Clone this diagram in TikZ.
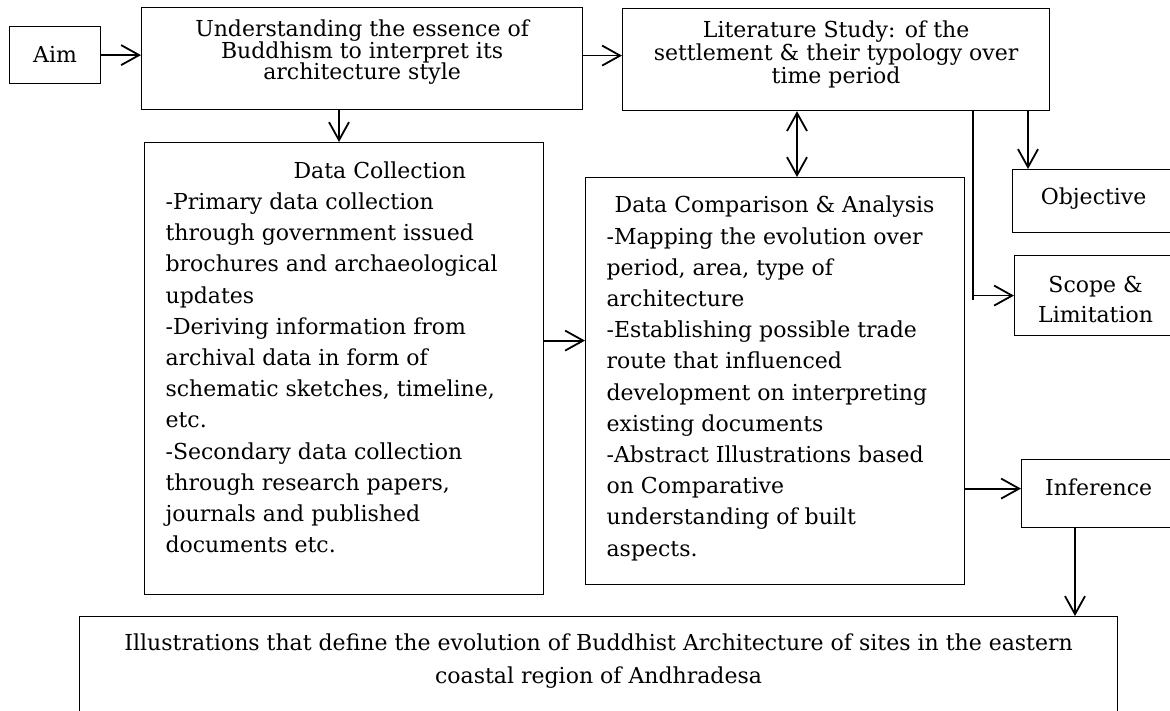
\documentclass[tikz,border=0pt]{standalone}
\usepackage{fontspec}
\setmainfont{DejaVu Serif}
\usetikzlibrary{arrows.meta}

% box contents: alignment, width, height, top pad, line skip, lines
\newcommand{\boxtext}[6]{\parbox[t][#3][t]{#2}{\fontsize{22}{#5}\selectfont\lineskiplimit=-20pt #1\vspace*{#4}\rule{0pt}{18pt}#6}}
\newcommand{\ctr}{\centering}
\newcommand{\lft}{\raggedright\leftskip=21pt }

\begin{document}
\begin{tikzpicture}[x=1pt, y=-1pt,
    box/.style={draw, line width=1.2pt, inner sep=0pt, anchor=north west},
    arr/.style={line width=1.8pt, -{Straight Barb[length=18pt, width=20pt]}},
    arr2/.style={line width=1.8pt, {Straight Barb[length=18pt, width=20pt]}-{Straight Barb[length=18pt, width=20pt]}}]
  \useasboundingbox (0,0) rectangle (1170,711);

  \node[box] (aim) at (9,26) {\boxtext{\ctr}{91pt}{57pt}{18.3pt}{31.2pt}{Aim}};
  \node[box] (und) at (141,7) {\boxtext{\ctr}{441pt}{102pt}{11pt}{21.5pt}{Understanding the essence of\\Buddhism to interpret its\\architecture style}};
  \node[box] (lit) at (622,8) {\boxtext{\ctr}{427pt}{102pt}{11.3pt}{23pt}{Literature Study: of the\\settlement \& their typology over\\time period}};

  \node[box] (dc) at (144,142) {\boxtext{\lft}{399pt}{452pt}{17.7pt}{31.2pt}{\hspace*{128pt}Data Collection\\-Primary data collection\\through government issued\\brochures and archaeological\\updates\\-Deriving information from\\archival data in form of\\schematic sketches, timeline,\\etc.\\-Secondary data collection\\through research papers,\\journals and published\\documents etc.}};
  \node[box] (dca) at (585,177) {\boxtext{\lft}{379pt}{407pt}{17.3pt}{31.2pt}{\hspace*{8pt}Data Comparison \& Analysis\\-Mapping the evolution over\\period, area, type of\\architecture\\-Establishing possible trade\\route that influenced\\development on interpreting\\existing documents\\-Abstract Illustrations based\\on Comparative\\understanding of built\\aspects.}};

  \node[box] (obj) at (1012,169) {\boxtext{\ctr}{162pt}{63pt}{17pt}{31.2pt}{Objective}};
  \node[box] (scope) at (1014,255) {\boxtext{\ctr}{162pt}{80pt}{19pt}{30pt}{Scope \&\\Limitation}};
  \node[box] (inf) at (1021,459) {\boxtext{\ctr}{154pt}{68pt}{18pt}{31.2pt}{Inference}};

  \node[box] (ill) at (79,616) {\boxtext{\ctr}{1038pt}{100pt}{16pt}{33pt}{Illustrations that define the evolution of Buddhist Architecture of sites in the eastern\\coastal region of Andhradesa}};

  % connectors
  \draw[arr] (aim.east) -- (aim.east -| und.west);
  \draw[arr] ([yshift=3pt]und.east) coordinate (ul) -- (ul -| lit.west);
  \path (und.south west) ++(198,0) coordinate (ud);
  \draw[arr] (ud) -- (ud |- dc.north);
  \path (lit.south west) ++(175,0) coordinate (ld);
  \draw[arr2] (ld) -- (ld |- dca.north);
  \path (obj.north west) ++(16,0) coordinate (od);
  \draw[arr] (od |- lit.south) -- (od);
  \coordinate (trunk) at (973,300);
  \draw[line width=1.8pt] (trunk |- lit.south) -- (trunk);
  \draw[arr] (trunk |- scope.west) -- (scope.west);
  \draw[arr] ([yshift=28pt]dc.east) coordinate (dr) -- (dr -| dca.west);
  \coordinate (ir) at ([yshift=5pt]inf.west);
  \draw[arr] (ir -| dca.east) -- (ir);
  \path (inf.south west) ++(54,0) coordinate (idn);
  \draw[arr] (idn) -- (idn |- ill.north);
\end{tikzpicture}
\end{document}
